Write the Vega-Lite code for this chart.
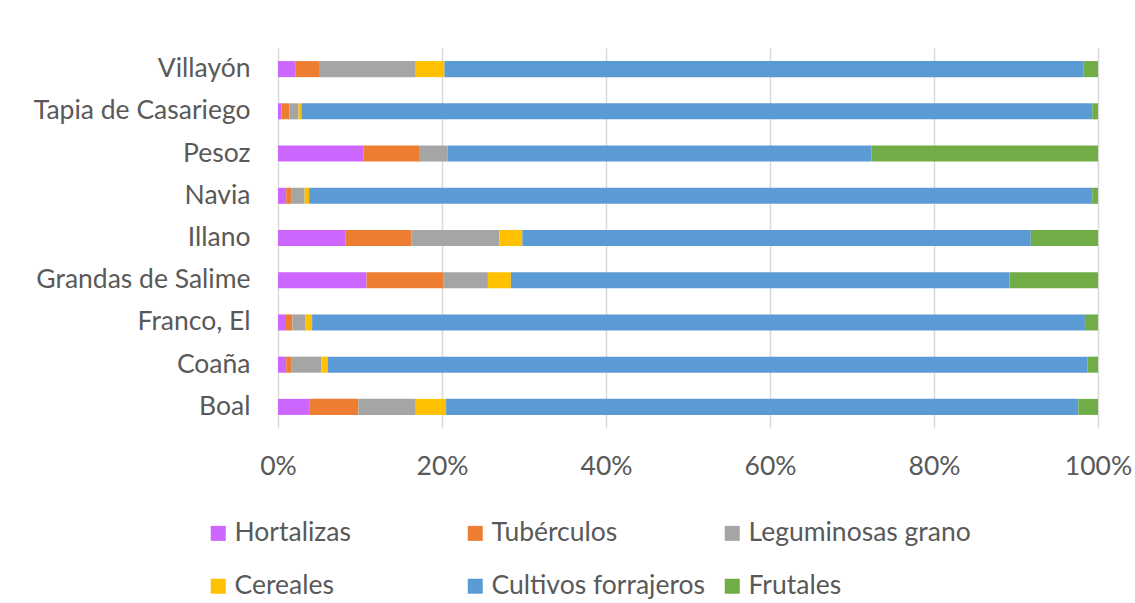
{
  "$schema": "https://vega.github.io/schema/vega-lite/v6.json",
  "width": 820,
  "height": 380,
  "autosize": {"type": "none"},
  "padding": {"left": 278, "top": 48, "right": 37, "bottom": 175},
  "background": "white",
  "config": {
    "view": {"stroke": null},
    "font": "Lato",
    "axis": {"labelColor": "#595959", "labelFont": "Lato", "labelFontSize": 26.5, "labelLimit": 400},
    "legend": {"labelColor": "#595959", "labelFont": "Lato", "labelFontSize": 26.5, "labelLimit": 400, "padding": 0}
  },
  "data": {
    "values": [
      {"municipio": "Villayón", "cultivo": "Hortalizas", "pct": 2.1},
      {"municipio": "Villayón", "cultivo": "Tubérculos", "pct": 2.9},
      {"municipio": "Villayón", "cultivo": "Leguminosas grano", "pct": 11.8},
      {"municipio": "Villayón", "cultivo": "Cereales", "pct": 3.5},
      {"municipio": "Villayón", "cultivo": "Cultivos forrajeros", "pct": 77.9},
      {"municipio": "Villayón", "cultivo": "Frutales", "pct": 1.8},
      {"municipio": "Tapia de Casariego", "cultivo": "Hortalizas", "pct": 0.4},
      {"municipio": "Tapia de Casariego", "cultivo": "Tubérculos", "pct": 1.0},
      {"municipio": "Tapia de Casariego", "cultivo": "Leguminosas grano", "pct": 1.1},
      {"municipio": "Tapia de Casariego", "cultivo": "Cereales", "pct": 0.35},
      {"municipio": "Tapia de Casariego", "cultivo": "Cultivos forrajeros", "pct": 96.45},
      {"municipio": "Tapia de Casariego", "cultivo": "Frutales", "pct": 0.7},
      {"municipio": "Pesoz", "cultivo": "Hortalizas", "pct": 10.4},
      {"municipio": "Pesoz", "cultivo": "Tubérculos", "pct": 6.8},
      {"municipio": "Pesoz", "cultivo": "Leguminosas grano", "pct": 3.5},
      {"municipio": "Pesoz", "cultivo": "Cereales", "pct": 0},
      {"municipio": "Pesoz", "cultivo": "Cultivos forrajeros", "pct": 51.7},
      {"municipio": "Pesoz", "cultivo": "Frutales", "pct": 27.6},
      {"municipio": "Navia", "cultivo": "Hortalizas", "pct": 1.0},
      {"municipio": "Navia", "cultivo": "Tubérculos", "pct": 0.6},
      {"municipio": "Navia", "cultivo": "Leguminosas grano", "pct": 1.65},
      {"municipio": "Navia", "cultivo": "Cereales", "pct": 0.55},
      {"municipio": "Navia", "cultivo": "Cultivos forrajeros", "pct": 95.5},
      {"municipio": "Navia", "cultivo": "Frutales", "pct": 0.7},
      {"municipio": "Illano", "cultivo": "Hortalizas", "pct": 8.2},
      {"municipio": "Illano", "cultivo": "Tubérculos", "pct": 8.1},
      {"municipio": "Illano", "cultivo": "Leguminosas grano", "pct": 10.7},
      {"municipio": "Illano", "cultivo": "Cereales", "pct": 2.8},
      {"municipio": "Illano", "cultivo": "Cultivos forrajeros", "pct": 62.0},
      {"municipio": "Illano", "cultivo": "Frutales", "pct": 8.2},
      {"municipio": "Grandas de Salime", "cultivo": "Hortalizas", "pct": 10.8},
      {"municipio": "Grandas de Salime", "cultivo": "Tubérculos", "pct": 9.4},
      {"municipio": "Grandas de Salime", "cultivo": "Leguminosas grano", "pct": 5.4},
      {"municipio": "Grandas de Salime", "cultivo": "Cereales", "pct": 2.8},
      {"municipio": "Grandas de Salime", "cultivo": "Cultivos forrajeros", "pct": 60.8},
      {"municipio": "Grandas de Salime", "cultivo": "Frutales", "pct": 10.8},
      {"municipio": "Franco, El", "cultivo": "Hortalizas", "pct": 0.86},
      {"municipio": "Franco, El", "cultivo": "Tubérculos", "pct": 0.9},
      {"municipio": "Franco, El", "cultivo": "Leguminosas grano", "pct": 1.6},
      {"municipio": "Franco, El", "cultivo": "Cereales", "pct": 0.8},
      {"municipio": "Franco, El", "cultivo": "Cultivos forrajeros", "pct": 94.24},
      {"municipio": "Franco, El", "cultivo": "Frutales", "pct": 1.6},
      {"municipio": "Coaña", "cultivo": "Hortalizas", "pct": 1.0},
      {"municipio": "Coaña", "cultivo": "Tubérculos", "pct": 0.6},
      {"municipio": "Coaña", "cultivo": "Leguminosas grano", "pct": 3.7},
      {"municipio": "Coaña", "cultivo": "Cereales", "pct": 0.75},
      {"municipio": "Coaña", "cultivo": "Cultivos forrajeros", "pct": 92.65},
      {"municipio": "Coaña", "cultivo": "Frutales", "pct": 1.3},
      {"municipio": "Boal", "cultivo": "Hortalizas", "pct": 3.8},
      {"municipio": "Boal", "cultivo": "Tubérculos", "pct": 6.0},
      {"municipio": "Boal", "cultivo": "Leguminosas grano", "pct": 7.0},
      {"municipio": "Boal", "cultivo": "Cereales", "pct": 3.7},
      {"municipio": "Boal", "cultivo": "Cultivos forrajeros", "pct": 77.1},
      {"municipio": "Boal", "cultivo": "Frutales", "pct": 2.4}
    ]
  },
  "transform": [
    {"calculate": "indexof(['Hortalizas', 'Tubérculos', 'Leguminosas grano', 'Cereales', 'Cultivos forrajeros', 'Frutales'], datum.cultivo)", "as": "orden"}
  ],
  "mark": {"type": "bar"},
  "encoding": {
    "y": {
      "field": "municipio",
      "type": "nominal",
      "sort": ["Villayón", "Tapia de Casariego", "Pesoz", "Navia", "Illano", "Grandas de Salime", "Franco, El", "Coaña", "Boal"],
      "scale": {"paddingInner": 0.62, "paddingOuter": 0.31},
      "axis": {"title": null, "ticks": false, "domain": false, "labelPadding": 28, "grid": false}
    },
    "x": {
      "field": "pct",
      "type": "quantitative",
      "aggregate": "sum",
      "stack": "normalize",
      "scale": {"domain": [0, 1], "nice": false},
      "axis": {
        "title": null,
        "format": ".0%",
        "values": [0, 0.2, 0.4, 0.6, 0.8, 1],
        "ticks": false,
        "domain": false,
        "grid": true,
        "gridColor": "#d9d9d9",
        "gridWidth": 1.5,
        "labelPadding": 25,
        "labelFlush": false
      }
    },
    "order": {"field": "orden", "type": "quantitative", "aggregate": "min"},
    "color": {
      "field": "cultivo",
      "type": "nominal",
      "scale": {
        "domain": ["Hortalizas", "Tubérculos", "Leguminosas grano", "Cereales", "Cultivos forrajeros", "Frutales"],
        "range": ["#cc66ff", "#ed7d31", "#a5a5a5", "#ffc000", "#5b9bd5", "#70ad47"]
      },
      "legend": {
        "title": null,
        "orient": "none",
        "legendX": -73,
        "legendY": 472,
        "direction": "horizontal",
        "columns": 3,
        "gridAlign": "all",
        "columnPadding": 5,
        "rowPadding": 26,
        "symbolType": "square",
        "symbolSize": 225,
        "symbolStrokeWidth": 0,
        "labelOffset": 3
      }
    }
  }
}
